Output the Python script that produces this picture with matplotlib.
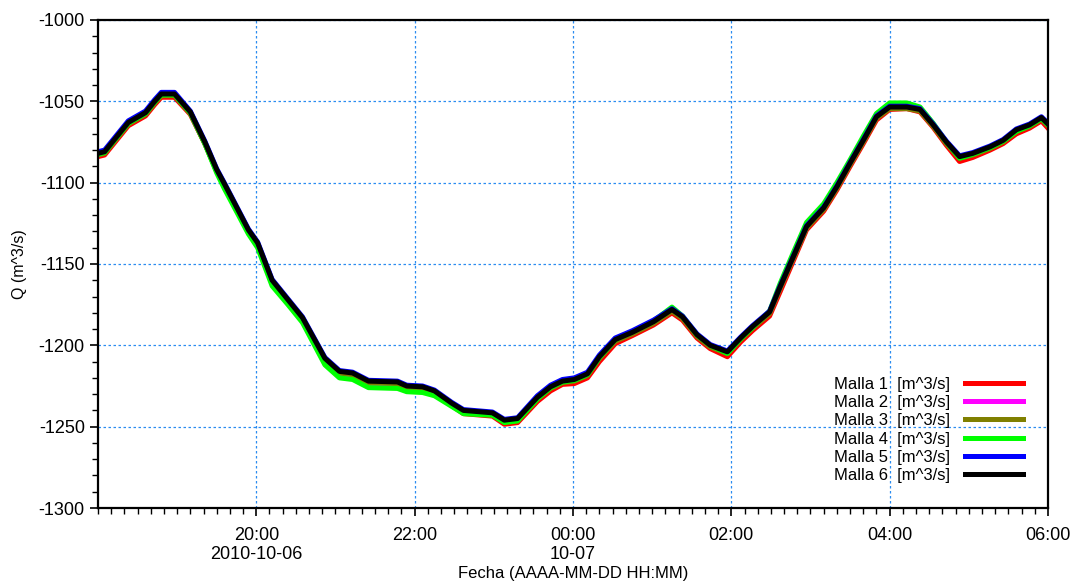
import matplotlib
matplotlib.use("Agg")
import matplotlib.pyplot as plt
import matplotlib.dates as mdates
from matplotlib.ticker import MultipleLocator, FixedLocator
import pandas as pd

plt.rcParams['font.family'] = ['Liberation Sans', 'DejaVu Sans']
plt.rcParams['axes.unicode_minus'] = False

# horas de lectura (2010-10-06 18:00 -> 2010-10-07 06:00)
horas = ["18:00", "18:05", "18:23", "18:36", "18:43", "18:48", "18:58", "19:10", "19:21", "19:30",
         "19:36", "19:54", "20:01", "20:12", "20:24", "20:35", "20:52", "21:03", "21:13", "21:25",
         "21:47", "21:54", "22:06", "22:15", "22:28", "22:37", "22:59", "23:08", "23:18", "23:33",
         "23:43", "23:52", "00:01", "00:11", "00:20", "00:32", "00:45", "01:01", "01:15", "01:23",
         "01:34", "01:44", "01:57", "02:07", "02:16", "02:29", "02:37", "02:47", "02:57", "03:10",
         "03:20", "03:30", "03:40", "03:50", "04:00", "04:13", "04:23", "04:33", "04:43", "04:53",
         "05:03", "05:16", "05:26", "05:36", "05:46", "05:55", "06:00"]

malla1 = [-1084, -1083, -1065, -1059, -1052, -1047.5, -1047.5, -1058, -1076, -1093,
          -1102, -1130, -1138.5, -1161, -1173.5, -1184.5, -1209.5, -1218, -1219, -1223.5,
          -1224, -1226.5, -1227, -1229.5, -1237, -1242, -1243.5, -1248.5, -1247.5, -1234.5,
          -1228, -1224, -1223.5, -1220, -1210, -1199, -1194, -1187.5, -1180, -1184.5,
          -1195.5, -1202, -1207, -1198, -1191, -1182, -1167, -1148, -1129, -1117.5,
          -1104.5, -1090, -1076, -1061.5, -1055, -1054.5, -1056.5, -1066, -1077, -1087,
          -1084.5, -1080, -1076, -1070, -1066.5, -1062, -1066.5]
malla2 = [-1082.5, -1081.5, -1063.5, -1057.5, -1050.5, -1046, -1046, -1057, -1075.5, -1092.5,
          -1101.5, -1129.5, -1137.5, -1160.5, -1172.5, -1183.5, -1209, -1218, -1219, -1224,
          -1224.5, -1226.5, -1226.5, -1228.5, -1236, -1240.5, -1242, -1246.5, -1245.5, -1232.5,
          -1226, -1222.5, -1221.5, -1218, -1207.5, -1197, -1192.5, -1186, -1178.5, -1183,
          -1194, -1200.5, -1204.5, -1196, -1189, -1180, -1164.5, -1146, -1127.5, -1116,
          -1103, -1088.5, -1074.5, -1060, -1054, -1054, -1055.5, -1065, -1075.5, -1084.5,
          -1082.5, -1078.5, -1074.5, -1068, -1065, -1060.5, -1064.5]
malla3 = [-1083, -1082, -1064, -1058, -1051, -1046.5, -1046.5, -1057.5, -1076, -1093,
          -1102, -1130, -1138, -1161, -1173, -1184, -1209, -1217, -1218, -1223,
          -1223.5, -1226, -1226.5, -1229, -1236.5, -1241, -1242.5, -1247, -1246, -1233,
          -1226.5, -1223, -1222, -1218.5, -1208, -1197.5, -1193, -1186.5, -1179, -1183.5,
          -1194.5, -1201, -1205, -1196.5, -1189.5, -1180.5, -1165, -1146.5, -1128, -1116.5,
          -1103.5, -1089, -1075, -1060.5, -1054.5, -1054.5, -1056, -1065.5, -1076, -1085,
          -1083, -1079, -1075, -1068.5, -1065.5, -1061, -1065]
malla4 = [-1082.5, -1081.5, -1063.5, -1057.5, -1050.5, -1046, -1046, -1057, -1076, -1094,
          -1104, -1131.5, -1140, -1163.5, -1175, -1186, -1212, -1220, -1221, -1226,
          -1226.5, -1228.5, -1229, -1231, -1237.5, -1242, -1243, -1247.5, -1246.5, -1233,
          -1226, -1222.5, -1221.5, -1218, -1207.5, -1196.5, -1191.5, -1185, -1176.5, -1182,
          -1193.5, -1200, -1205, -1196, -1189, -1179, -1162, -1143, -1124.5, -1113,
          -1100, -1086, -1071.5, -1057.5, -1051, -1051, -1053.5, -1063.5, -1075, -1085,
          -1082.5, -1078.5, -1074.5, -1068.5, -1065, -1060.5, -1064.5]
malla5 = [-1081, -1080, -1062, -1056, -1049, -1044.5, -1044.5, -1056, -1074.5, -1091.5,
          -1100.5, -1128.5, -1136.5, -1159.5, -1171.5, -1182.5, -1207.5, -1215.5, -1216.5, -1221.5,
          -1222, -1224.5, -1225, -1227.5, -1235, -1239.5, -1241, -1245.5, -1244.5, -1231,
          -1224.5, -1221, -1220, -1216.5, -1206, -1195.5, -1191, -1184.5, -1177.5, -1182,
          -1193, -1199.5, -1203.5, -1195, -1188, -1179, -1163.5, -1145, -1126.5, -1115,
          -1102, -1087.5, -1073.5, -1059, -1053, -1053, -1054.5, -1064, -1074.5, -1083.5,
          -1081.5, -1077.5, -1073.5, -1067, -1064, -1059.5, -1063.5]
malla6 = [-1082, -1081, -1063, -1057, -1050, -1045.5, -1045.5, -1056.5, -1075, -1092,
          -1101, -1129, -1137, -1160, -1172, -1183, -1208, -1216, -1217, -1222,
          -1222.5, -1225, -1225.5, -1228, -1235.5, -1240, -1241.5, -1246, -1245, -1232,
          -1225.5, -1222, -1221, -1217.5, -1207, -1196.5, -1192, -1185.5, -1178, -1182.5,
          -1193.5, -1200, -1204, -1195.5, -1188.5, -1179.5, -1164, -1145.5, -1127, -1115.5,
          -1102.5, -1088, -1074, -1059.5, -1053.5, -1053.5, -1055, -1064.5, -1075, -1084,
          -1082, -1078, -1074, -1067.5, -1064.5, -1060, -1064]

series = [malla1, malla2, malla3, malla4, malla5, malla6]
etiquetas = ["Malla 1  [m^3/s]", "Malla 2  [m^3/s]", "Malla 3  [m^3/s]",
             "Malla 4  [m^3/s]", "Malla 5  [m^3/s]", "Malla 6  [m^3/s]"]
colores = ["#ff0000", "#ff00ff", "#808000", "#00ff00", "#0000ff", "#000000"]

# fechas completas: antes de medianoche es el dia 06, despues el 07
fechas = []
for h in horas:
    dia = "2010-10-06" if int(h[:2]) >= 12 else "2010-10-07"
    fechas.append(pd.Timestamp(dia + " " + h))

fig = plt.figure(figsize=(10.73, 5.84), dpi=100)
ax = fig.add_axes([0.0913, 0.1301, 0.8854, 0.8357])

for y, lab, c in zip(series, etiquetas, colores):
    ax.plot(fechas, y, color=c, lw=3.6, label=lab, solid_joinstyle='round')

# ejes
ax.set_xlim(pd.Timestamp("2010-10-06 18:00"), pd.Timestamp("2010-10-07 06:00"))
ax.set_ylim(-1300, -1000)
ax.yaxis.set_major_locator(MultipleLocator(50))
ax.yaxis.set_minor_locator(MultipleLocator(10))

mayores = [pd.Timestamp(s) for s in ["2010-10-06 20:00", "2010-10-06 22:00", "2010-10-07 00:00",
                                     "2010-10-07 02:00", "2010-10-07 04:00", "2010-10-07 06:00"]]
ax.xaxis.set_major_locator(FixedLocator(mdates.date2num(mayores)))
ax.set_xticklabels(["20:00\n2010-10-06", "22:00", "00:00\n10-07", "02:00", "04:00", "06:00"],
                   linespacing=1.1)
ax.xaxis.set_minor_locator(mdates.MinuteLocator(byminute=[0, 10, 20, 30, 40, 50]))

ax.tick_params(which='major', direction='out', length=6, width=1.2, labelsize=13)
ax.tick_params(axis='x', which='major', pad=8)
ax.tick_params(which='minor', direction='out', length=4, width=1.0)
for sp in ax.spines.values():
    sp.set_linewidth(1.6)

ax.grid(True, which='major', color='#2a8cf0', ls=(0, (2, 2)), lw=0.9)

ax.set_xlabel("Fecha (AAAA-MM-DD HH:MM)", fontsize=12, labelpad=2)
ax.set_ylabel("Q (m^3/s)", fontsize=11.5, labelpad=8)

ax.legend(loc='lower right', bbox_to_anchor=(0.99, 0.02), frameon=False,
          markerfirst=False, fontsize=12, handlelength=3.5, handletextpad=0.9,
          labelspacing=0.2)

fig.savefig("out.png", dpi=100)
